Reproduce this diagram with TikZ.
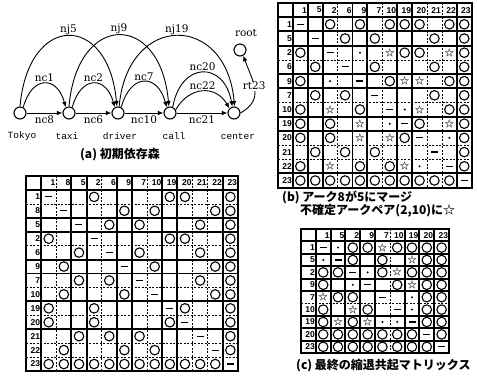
\documentclass[tikz,border=0pt]{standalone}
\usepackage{fontspec}
\usetikzlibrary{arrows.meta}
\setmainfont{DejaVu Serif}
\newfontfamily\cjk{Noto Sans CJK JP}
\newfontfamily\wordfont{Liberation Mono}
\newfontfamily\numfont{Liberation Sans}

\tikzset{
  wnode/.style={circle, draw, line width=1.1pt, minimum size=12pt, inner sep=0pt},
  dep/.style={line width=0.9pt, -{Latex[length=5.5pt,width=4.5pt]}},
  deplabel/.style={font=\fontsize{10.5}{11}\selectfont, inner sep=1pt},
  wordlabel/.style={font=\wordfont\fontsize{9.5}{10}\selectfont},
  captext/.style={font=\cjk\bfseries\fontsize{12}{13}\selectfont, inner sep=0pt},
  thickgrid/.style={line width=1.9pt, line cap=rect},
  thingrid/.style={line width=0.5pt, dash pattern=on 2pt off 1.5pt},
  idx/.style={font=\numfont\bfseries\fontsize{8.5}{9}\selectfont, anchor=east, inner sep=0.8pt},
  mko/.style={circle, draw, line width=1.1pt, minimum size=9.5pt, inner sep=0pt},
  mkd/.style={fill, minimum width=7pt, minimum height=1.2pt, inner sep=0pt},
  mks/.style={font=\cjk\bfseries\fontsize{9.5}{10}\selectfont, inner sep=0pt, execute at begin node={☆}},
  mkp/.style={circle, fill, minimum size=2.2pt, inner sep=0pt},
  mkx/.style={inner sep=0pt},
}

\begin{document}
\begin{tikzpicture}[x=1pt, y=1pt]
  \useasboundingbox (0,0) rectangle (477,386);
  % (a) initial dependency forest
  \node[wnode] (tokyo) at (20,273) {};
  \node[wnode] (taxi) at (69,273) {};
  \node[wnode] (driver) at (118,273) {};
  \node[wnode] (call) at (170,273) {};
  \node[wnode] (center) at (234,273) {};
  \node[wnode] (root) at (240,336) {};
  \node[deplabel] (rootname) at (246,353) {root};
  \node[wordlabel] (wtokyo) at (22,250) {Tokyo};
  \node[wordlabel] (wtaxi) at (67,250) {taxi};
  \node[wordlabel] (wdriver) at (120,250) {driver};
  \node[wordlabel] (wcall) at (174,250) {call};
  \node[wordlabel] (wcenter) at (238,250) {center};

  \draw[dep] (tokyo) -- node[deplabel, below=1pt] {nc8} (taxi);
  \draw[dep] (taxi) -- node[deplabel, below=1pt] {nc6} (driver);
  \draw[dep] (driver) -- node[deplabel, below=1pt] {nc10} (call);
  \draw[dep] (call) -- node[deplabel, below=1pt] {nc21} (center);
  \draw[dep] (tokyo.60) to[out=75,in=105,looseness=2] node[deplabel, above] {nc1} (taxi.120);
  \draw[dep] (taxi.60) to[out=75,in=105,looseness=2] node[deplabel, above] {nc2} (driver.120);
  \draw[dep] (driver.60) to[out=75,in=105,looseness=2] node[deplabel, above] {nc7} (call.120);
  \draw[dep] (call.30) to[out=60,in=120,looseness=1.3] node[deplabel, above] {nc22} (center.135);
  \draw[dep] (call.65) to[out=80,in=100,looseness=2] node[deplabel, above] {nc20} (center.105);
  \draw[dep] (tokyo.90) to[out=85,in=95,looseness=2.5] node[deplabel, above] {nj5} (driver.100);
  \draw[dep] (taxi.90) to[out=85,in=95,looseness=2.45] node[deplabel, above] {nj9} (call.100);
  \draw[dep] (driver.80) to[out=85,in=95,looseness=2.1] node[deplabel, above] {nj19} (center.85);
  \draw[dep] (center.east) to[out=30,in=-70,looseness=1.25] node[deplabel, fill=white, inner sep=0.5pt, pos=0.55] {rt23} (root.-60);

  \node[captext] (capa) at (120,231) {(a) 初期依存森};
  \node[captext, anchor=west] (capb) at (282,189) {(b) アーク8が5にマージ};
  \node[captext, anchor=west] (capb2) at (300,175) {不確定アークペア(2,10)に☆};
  \node[captext, anchor=west] (capc) at (296,20) {(c) 最終の縮退共起マトリックス};

  % (a) matrix
  \begin{scope}[shift={(26,210)}, x=15.14pt, y=-13.93pt]
    \foreach \i in {2,5,8,11,12} \draw[thingrid] (\i,0) -- (\i,14);
    \foreach \j in {2,5,8,10,12,13} \draw[thingrid] (0,\j) -- (14,\j);
    \foreach \i in {0,1,3,4,6,7,9,10,13,14} \draw[thickgrid] (\i,0) -- (\i,14);
    \foreach \j in {0,1,3,4,6,7,9,11,14} \draw[thickgrid] (0,\j) -- (14,\j);
    \foreach \l [count=\i] in {1,8,5,2,6,9,7,10,19,20,21,22,23} {
      \node[idx] (acol\i) at (\i+1,0.5) {\l};
      \node[idx] (arow\i) at (1,\i+0.5) {\l};
    }
    \foreach \row [count=\j] in {
      {d,x,x,o,x,x,x,x,o,o,x,x,o},
      {x,d,x,x,x,o,x,o,x,x,x,o,o},
      {x,x,d,x,o,x,o,x,x,x,o,x,o},
      {o,x,x,d,x,x,x,x,o,o,x,x,o},
      {x,x,o,x,d,x,o,x,x,x,o,x,o},
      {x,o,x,x,x,d,x,o,x,x,x,o,o},
      {x,x,o,x,o,x,d,x,x,x,o,x,o},
      {x,o,x,x,x,o,x,d,x,x,x,o,o},
      {o,x,x,o,x,x,x,x,d,o,x,x,o},
      {o,x,x,o,x,x,x,x,o,d,x,x,o},
      {x,x,o,x,o,x,o,x,x,x,d,x,o},
      {x,o,x,x,x,o,x,o,x,x,x,d,o},
      {o,o,o,o,o,o,o,o,o,o,o,o,d}}
      \foreach \s [count=\i] in \row
        \node[mk\s] (a\j-\i) at (\i+0.5,\j+0.5) {};
  \end{scope}

  % (b) matrix
  \begin{scope}[shift={(278,383)}, x=14.9pt, y=-14.2pt]
    \foreach \i in {4,7,10,11} {
      \draw[thingrid] (\i,0) -- (\i,13);
      \draw[thingrid] (0,\i) -- (13,\i);
    }
    \foreach \i in {0,1,2,3,5,6,8,9,12,13} {
      \draw[thickgrid] (\i,0) -- (\i,13);
      \draw[thickgrid] (0,\i) -- (13,\i);
    }
    \foreach \l [count=\i] in {1,5,2,6,9,7,10,19,20,21,22,23} {
      \node[idx] (bcol\i) at (\i+1,0.5) {\l};
      \node[idx] (brow\i) at (1,\i+0.5) {\l};
    }
    \foreach \row [count=\j] in {
      {d,x,o,x,o,x,o,o,o,x,o,o},
      {x,d,x,o,x,o,x,x,x,o,x,o},
      {o,x,d,x,p,x,s,o,o,x,s,o},
      {x,o,x,d,x,o,x,x,x,o,x,o},
      {o,x,p,x,d,x,o,s,s,x,o,o},
      {x,o,x,o,x,d,x,x,x,o,x,o},
      {o,x,s,x,o,x,d,p,s,x,o,o},
      {o,x,o,x,s,x,p,d,o,x,s,o},
      {o,x,o,x,s,x,s,o,d,x,p,o},
      {x,o,x,o,x,o,x,x,x,d,x,o},
      {o,x,s,x,o,x,o,s,p,x,d,o},
      {o,o,o,o,o,o,o,o,o,o,o,d}}
      \foreach \s [count=\i] in \row
        \node[mk\s] (b\j-\i) at (\i+0.5,\j+0.5) {};
  \end{scope}

  % (c) matrix
  \begin{scope}[shift={(301,157)}, x=14.8pt, y=-12.4pt]
    \draw[thingrid] (6,0) -- (6,10);
    \draw[thingrid] (0,6) -- (10,6);
    \foreach \i in {0,1,2,3,4,5,7,8,9,10} {
      \draw[thickgrid] (\i,0) -- (\i,10);
      \draw[thickgrid] (0,\i) -- (10,\i);
    }
    \foreach \l [count=\i] in {1,5,2,9,7,10,19,20,23} {
      \node[idx] (ccol\i) at (\i+1,0.5) {\l};
      \node[idx] (crow\i) at (1,\i+0.5) {\l};
    }
    \foreach \row [count=\j] in {
      {d,p,o,o,s,o,o,o,o},
      {p,d,o,x,o,x,s,o,o},
      {o,o,d,p,o,s,o,o,o},
      {o,x,p,d,x,o,s,o,o},
      {s,o,o,x,d,x,p,o,o},
      {o,x,s,o,x,d,p,o,o},
      {o,s,o,s,p,p,d,o,o},
      {o,o,o,o,o,o,o,d,o},
      {o,o,o,o,o,o,o,o,d}}
      \foreach \s [count=\i] in \row
        \node[mk\s] (c\j-\i) at (\i+0.5,\j+0.5) {};
  \end{scope}
\end{tikzpicture}
\end{document}
